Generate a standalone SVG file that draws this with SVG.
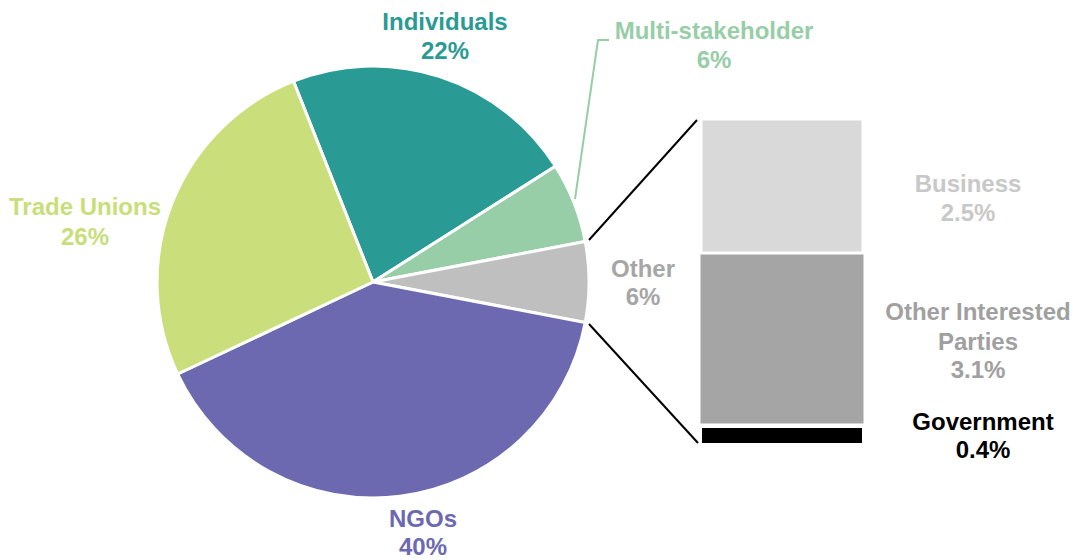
<svg xmlns="http://www.w3.org/2000/svg" width="1075" height="560" viewBox="0 0 1075 560">
<style>
.slice{stroke:#fff;stroke-width:3;stroke-linejoin:round}
.bar{stroke:#fff;stroke-width:1}
text{font-family:"Liberation Sans",Arial,sans-serif;font-weight:bold;font-size:24px;text-anchor:middle}
.conn{stroke:#000;stroke-width:2;fill:none}
</style>
<rect width="1075" height="560" fill="#fff"/>
<g id="pie">
<g id="individuals"><path class="slice" fill="#2A9A94" d="M373,282 L293.5,81.2 A216,216 0 0 1 555.4,166.3 Z"/></g>
<g id="multi-stakeholder"><path class="slice" fill="#97CDA7" d="M373,282 L555.4,166.3 A216,216 0 0 1 585.2,241.5 Z"/></g>
<g id="other"><path class="slice" fill="#BFBFBF" d="M373,282 L585.2,241.5 A216,216 0 0 1 585.2,322.5 Z"/></g>
<g id="ngos"><path class="slice" fill="#6C69B0" d="M373,282 L585.2,322.5 A216,216 0 0 1 177.6,374 Z"/></g>
<g id="trade-unions"><path class="slice" fill="#CADF7C" d="M373,282 L177.6,374 A216,216 0 0 1 293.5,81.2 Z"/></g>
</g>
<g id="bars">
<g id="business"><rect class="bar" x="702" y="120" width="160" height="132" fill="#D9D9D9"/></g>
<g id="other-interested"><rect class="bar" x="700" y="254" width="164" height="170" fill="#A5A5A5"/></g>
<g id="government"><rect x="702" y="428" width="160" height="15" fill="#000"/></g>
</g>
<g id="connectors">
<polyline points="575,199 598,40 609,40" fill="none" stroke="#97CDA7" stroke-width="2"/>
<line class="conn" x1="589" y1="240" x2="697" y2="120"/>
<line class="conn" x1="589" y1="324" x2="698" y2="443"/>
</g>
<g id="labels">
<text x="445" y="30" fill="#2A9A94">Individuals</text>
<text x="445" y="59" fill="#2A9A94">22%</text>
<text x="714" y="39" fill="#97CDA7">Multi-stakeholder</text>
<text x="714" y="68" fill="#97CDA7">6%</text>
<text x="85" y="215" fill="#C8DE7A">Trade Unions</text>
<text x="85" y="245" fill="#C8DE7A">26%</text>
<text x="423" y="527" fill="#6C69B0">NGOs</text>
<text x="423" y="555" fill="#6C69B0">40%</text>
<text x="643" y="277" fill="#A6A6A6">Other</text>
<text x="643" y="305" fill="#A6A6A6">6%</text>
<text x="968" y="192" fill="#C8C8C8">Business</text>
<text x="968" y="221" fill="#C8C8C8">2.5%</text>
<text x="978" y="320" fill="#A0A0A0">Other Interested</text>
<text x="978" y="350" fill="#A0A0A0">Parties</text>
<text x="978" y="378" fill="#A0A0A0">3.1%</text>
<text x="983" y="430" fill="#000">Government</text>
<text x="983" y="458" fill="#000">0.4%</text>
</g>
</svg>
